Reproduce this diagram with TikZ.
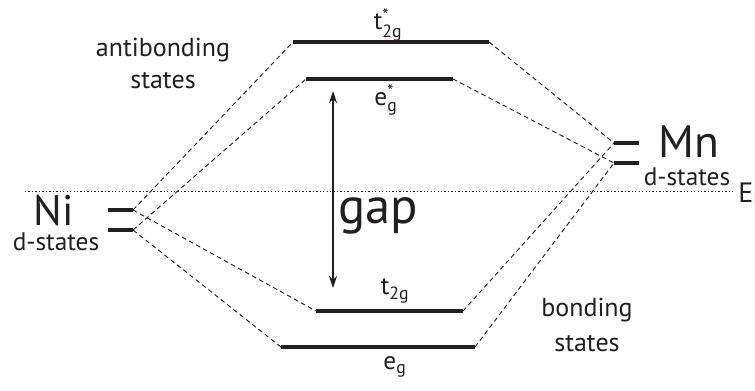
\documentclass[tikz,border=0pt]{standalone}
\usepackage{amsmath}
\usepackage{fontspec}
\setmainfont{PT Sans}
\usepackage{xcolor}
\definecolor{levelink}{HTML}{231F20}
\usetikzlibrary{arrows.meta}

\begin{document}
\begin{tikzpicture}[
  x=0.75pt,
  y=-0.75pt,
  every node/.style={font=\fontsize{19}{23}\selectfont, text=levelink, inner sep=0pt},
  level/.style={levelink, line width=3pt},
  link/.style={levelink, line width=0.7pt, dash pattern=on 3.5pt off 2.5pt},
  fermi/.style={levelink, line width=0.7pt, dash pattern=on 1pt off 1.6pt}
]
  \useasboundingbox (0,0) rectangle (755,390);

  % end points of the levels
  \coordinate (niUL) at (108,210);  \coordinate (niUR) at (133,210);
  \coordinate (niLL) at (108,230);  \coordinate (niLR) at (133,230);
  \coordinate (mnUL) at (614,143);  \coordinate (mnUR) at (639,143);
  \coordinate (mnLL) at (614,163);  \coordinate (mnLR) at (639,163);
  \coordinate (tstarL) at (293,42); \coordinate (tstarR) at (489,42);
  \coordinate (estarL) at (306,79); \coordinate (estarR) at (453,79);
  \coordinate (ttwoL) at (316,311); \coordinate (ttwoR) at (463,311);
  \coordinate (egL) at (281,347);   \coordinate (egR) at (475,347);
  \coordinate (fermiL) at (25,191); \coordinate (fermiR) at (733,191);
  \coordinate (gapTop) at (333,91); \coordinate (gapBot) at (333,288);

  \draw[fermi] (fermiL) -- (fermiR);

  \draw[link] (niUR) -- (tstarL);
  \draw[link] (niUR) -- (ttwoL);
  \draw[link] (niLR) -- (estarL);
  \draw[link] (niLR) -- (egL);
  \draw[link] (tstarR) -- (mnUL);
  \draw[link] (ttwoR) -- (mnUL);
  \draw[link] (estarR) -- (mnLL);
  \draw[link] (egR) -- (mnLL);

  \foreach \lv in {ni,mn}{
    \draw[level] (\lv UL) -- (\lv UR);
    \draw[level] (\lv LL) -- (\lv LR);
  }
  \draw[level] (tstarL) -- (tstarR);
  \draw[level] (estarL) -- (estarR);
  \draw[level] (ttwoL) -- (ttwoR);
  \draw[level] (egL) -- (egR);

  \draw[levelink, line width=0.9pt, {Stealth[length=9pt,width=6pt]}-{Stealth[length=9pt,width=6pt]}] (gapTop) -- (gapBot);

  \node (tstarlab) at (388,25) {$\text{t}^{\text{*}}_{\text{2g}}$};
  \node (estarlab) at (386,100) {$\text{e}^{\text{*}}_{\text{g}}$};
  \node (ttwolab) at (395,291) {$\text{t}_{\text{2g}}$};
  \node (eglab) at (395,367) {$\text{e}_{\text{g}}$};

  \node[font=\fontsize{38}{42}\selectfont] (gaplab) at (378,216) {gap};
  \node[font=\fontsize{32}{36}\selectfont, anchor=base] (nilab) at (54,225) {Ni};
  \node[anchor=base] (nistates) at (56,250) {d-states};
  \node[font=\fontsize{34}{38}\selectfont, anchor=base] (mnlab) at (689,157) {Mn};
  \node[anchor=base] (mnstates) at (687,185) {d-states};
  \node[font=\fontsize{21}{24}\selectfont, anchor=base west] (fermilab) at (738,202) {E$_{\text{F}}$};

  \node[align=center, font=\fontsize{19.5}{24}\selectfont] (antilab) at (163,63) {antibonding\\states};
  \node[align=center, font=\fontsize{19.5}{26}\selectfont] (bondlab) at (587,325) {bonding\\states};
\end{tikzpicture}
\end{document}
